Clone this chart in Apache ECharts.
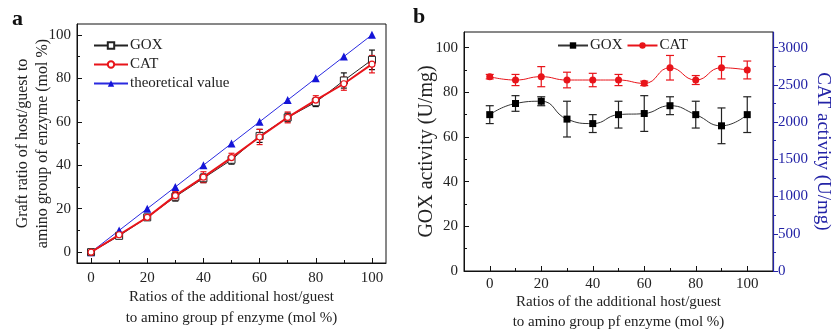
<!DOCTYPE html>
<html><head><meta charset="utf-8">
<script src="https://cdn.jsdelivr.net/npm/echarts@6/dist/echarts.min.js"></script>
<style>html,body{margin:0;padding:0;background:#fff}#c{width:832px;height:336px}</style>
</head><body><div id="c"></div>
<script>
// ---- data ----
const xRatio = [0,10,20,30,40,50,60,70,80,90,100];
// panel a: graft ratio (mol %)
const aGOX = [0,7.5,16,25.5,34,42.5,53.5,62,69,79,88.5];
const aGOXerr = [0.8,1,1,2,2,2,3,2,2,3.5,4.5];
const aCAT = [0,8,16,26,34.5,43.5,53,62,70,77.5,86.5];
const aCATerr = [0.8,1,1,2,2.5,2,3.5,2.5,2,3,4];
const aTheory = [0,10,20,30,40,50,60,70,80,90,100];
// panel b: activity
const bGOX = [70,75,76,68,66,70,70.5,74,70,65,70];
const bGOXerr = [4,3.5,2,8,4,6,8,4,6,8,8];
const bCAT = [2610,2565,2610,2565,2565,2565,2520,2730,2565,2730,2700];
const bCATerr = [30,75,135,105,90,75,30,165,60,150,120];
// ticks
const aTicks = [0,20,40,60,80,100];
const aMinor = [10,30,50,70,90];
const bLeftTicks = [0,20,40,60,80,100];
const bLeftMinor = [10,30,50,70,90];
const bRightTicks = [0,500,1000,1500,2000,2500,3000];
const bRightMinor = [250,750,1250,1750,2250,2750];
const xTicks = [0,20,40,60,80,100];
const xMinor = [10,30,50,70,90];

const FONT = 'Liberation Serif';
const BLUE = '#2323a6';
const RED = '#e8141a';

function errSeries(name, xi, yi, vals, errs, color, cap, w) {
  return {
    type:'custom', name:name, xAxisIndex:xi, yAxisIndex:yi, z:1,
    data: vals.map((v,i)=>[xRatio[i], v, errs[i]]),
    renderItem: function(params, api){
      const x = api.value(0), y = api.value(1), e = api.value(2);
      const p1 = api.coord([x, y+e]), p2 = api.coord([x, y-e]);
      const st = {stroke:color, lineWidth:w};
      return {type:'group', children:[
        {type:'line', shape:{x1:p1[0],y1:p1[1],x2:p2[0],y2:p2[1]}, style:st},
        {type:'line', shape:{x1:p1[0]-cap,y1:p1[1],x2:p1[0]+cap,y2:p1[1]}, style:st},
        {type:'line', shape:{x1:p2[0]-cap,y1:p2[1],x2:p2[0]+cap,y2:p2[1]}, style:st}
      ]};
    }
  };
}

function xAx(grid, min, max, name, gap, lh, lm) {
  return [{
    type:'value', gridIndex:grid, min:min, max:max,
    name:name, nameLocation:'middle', nameGap:gap, nameMoveOverlap:false,
    nameTextStyle:{fontFamily:FONT, fontSize:15, color:'#222', lineHeight:lh},
    axisLine:{onZero:false, lineStyle:{color:'#111', width:1}},
    axisTick:{inside:true, length:5, customValues:xTicks, lineStyle:{color:'#111'}},
    axisLabel:{customValues:xTicks, fontFamily:FONT, fontSize:15, color:'#222', margin:lm},
    splitLine:{show:false}
  },{
    type:'value', gridIndex:grid, min:min, max:max, position:'bottom',
    axisLine:{show:false, onZero:false},
    axisTick:{inside:true, length:3, customValues:xMinor, lineStyle:{color:'#111'}},
    axisLabel:{show:false}, splitLine:{show:false}
  }];
}

const opt = {
  animation:false,
  grid:[
    {left:77, top:24, width:309, height:239, show:true, borderColor:'#111', borderWidth:1, outerBoundsMode:'none', containLabel:false},
    {left:464, top:32, width:309, height:239, show:true, borderColor:'#111', borderWidth:1, outerBoundsMode:'none', containLabel:false}
  ],
  xAxis: [
    ...xAx(0,-5,105,'Ratios of the additional host/guest\nto amino group pf enzyme (mol %)',24,21,8),
    ...xAx(1,-10,110,'Ratios of the additional host/guest\nto amino group pf enzyme (mol %)',21,20,6)
  ],
  yAxis: [
    { // 0: panel a main
      type:'value', gridIndex:0, min:-5, max:105,
      name:'Graft ratio of host/guest to\namino group of enzyme (mol %)', nameLocation:'middle', nameGap:24, nameMoveOverlap:false,
      nameTextStyle:{fontFamily:FONT, fontSize:16, color:'#222', lineHeight:20},
      axisLine:{onZero:false, lineStyle:{color:'#111'}},
      axisTick:{inside:true, length:5, customValues:aTicks, lineStyle:{color:'#111'}},
      axisLabel:{customValues:aTicks, fontFamily:FONT, fontSize:15, color:'#222', margin:6},
      splitLine:{show:false}
    },
    { // 1: panel a minor
      type:'value', gridIndex:0, min:-5, max:105, position:'left',
      axisLine:{show:false, onZero:false},
      axisTick:{inside:true, length:3, customValues:aMinor, lineStyle:{color:'#111'}},
      axisLabel:{show:false}, splitLine:{show:false}
    },
    { // 2: panel b left
      type:'value', gridIndex:1, min:0, max:107,
      name:'GOX activity (U/mg)', nameLocation:'middle', nameGap:27, nameMoveOverlap:false,
      nameTextStyle:{fontFamily:FONT, fontSize:20, color:'#222'},
      axisLine:{onZero:false, lineStyle:{color:'#111'}},
      axisTick:{inside:true, length:5, customValues:bLeftTicks, lineStyle:{color:'#111'}},
      axisLabel:{customValues:bLeftTicks, fontFamily:FONT, fontSize:15, color:'#222', margin:6},
      splitLine:{show:false}
    },
    { // 3: panel b left minor
      type:'value', gridIndex:1, min:0, max:107, position:'left',
      axisLine:{show:false, onZero:false},
      axisTick:{inside:true, length:3, customValues:bLeftMinor, lineStyle:{color:'#111'}},
      axisLabel:{show:false}, splitLine:{show:false}
    },
    { // 4: panel b right
      type:'value', gridIndex:1, min:0, max:3210, position:'right',
      name:'CAT activity (U/mg)', nameLocation:'middle', nameGap:40, nameRotate:-90, nameMoveOverlap:false,
      nameTextStyle:{fontFamily:FONT, fontSize:19, color:BLUE},
      axisLine:{show:true, onZero:false, lineStyle:{color:BLUE, width:1.2}},
      axisTick:{show:true, inside:false, length:5, customValues:bRightTicks, lineStyle:{color:BLUE}},
      axisLabel:{customValues:bRightTicks, formatter:function(v){return String(v);}, fontFamily:FONT, fontSize:15, color:BLUE, margin:5},
      splitLine:{show:false}
    },
    { // 5: panel b right minor
      type:'value', gridIndex:1, min:0, max:3210, position:'right',
      axisLine:{show:false, onZero:false},
      axisTick:{show:true, inside:false, length:3, customValues:bRightMinor, lineStyle:{color:BLUE}},
      axisLabel:{show:false}, splitLine:{show:false}
    }
  ],
  legend:[
    {
      left:88, top:33, orient:'vertical', itemGap:4, itemWidth:34, itemHeight:8,
      data:['GOX','CAT','theoretical value'],
      textStyle:{fontFamily:FONT, fontSize:15, color:'#222', padding:[0,0,0,-3]}
    },
    {
      left:552, top:33, orient:'horizontal', itemGap:4, itemWidth:30, itemHeight:8,
      data:['GOX b','CAT b'],
      formatter:function(n){return n.replace(' b','');},
      textStyle:{fontFamily:FONT, fontSize:15, color:'#222', padding:[0,0,0,-3]}
    }
  ],
  series:[
    errSeries('errAGOX',0,0,aGOX,aGOXerr,'#111',3,1.2),
    errSeries('errACAT',0,0,aCAT,aCATerr,RED,3,1.2),
    {
      name:'theoretical value', type:'line', xAxisIndex:0, yAxisIndex:0, z:3,
      data:xRatio.map((x,i)=>[x,aTheory[i]]),
      symbol:'triangle', symbolSize:8,
      lineStyle:{color:'#2a2ae0', width:1},
      itemStyle:{color:'#1414d8'}
    },
    {
      name:'GOX', type:'line', xAxisIndex:0, yAxisIndex:0, z:4,
      data:xRatio.map((x,i)=>[x,aGOX[i]]),
      symbol:'rect', symbolSize:7, showAllSymbol:true,
      lineStyle:{color:'#222', width:1},
      itemStyle:{color:'#fff', borderColor:'#222', borderWidth:1}
    },
    {
      name:'CAT', type:'line', xAxisIndex:0, yAxisIndex:0, z:5,
      data:xRatio.map((x,i)=>[x,aCAT[i]]),
      symbol:'circle', symbolSize:6, showAllSymbol:true,
      lineStyle:{color:RED, width:2},
      itemStyle:{color:'#fff', borderColor:RED, borderWidth:1.2}
    },
    errSeries('errBGOX',2,2,bGOX,bGOXerr,'#222',4,1.2),
    errSeries('errBCAT',2,4,bCAT,bCATerr,RED,4,1.2),
    {
      name:'GOX b', type:'line', xAxisIndex:2, yAxisIndex:2, smooth:0.5, z:4,
      data:xRatio.map((x,i)=>[x,bGOX[i]]),
      symbol:'rect', symbolSize:7,
      lineStyle:{color:'#333', width:1},
      itemStyle:{color:'#000'}
    },
    {
      name:'CAT b', type:'line', xAxisIndex:2, yAxisIndex:4, smooth:0.5, z:4,
      data:xRatio.map((x,i)=>[x,bCAT[i]]),
      symbol:'circle', symbolSize:7,
      lineStyle:{color:RED, width:1},
      itemStyle:{color:RED}
    }
  ],
  graphic:[
    {type:'text', left:12, top:8, style:{text:'a', font:'bold 22px "Liberation Serif"', fill:'#111'}},
    {type:'text', left:413, top:6, style:{text:'b', font:'bold 22px "Liberation Serif"', fill:'#111'}}
  ]
};
const chart = echarts.init(document.getElementById('c'), null, {renderer:'canvas'});
chart.setOption(opt);
</script></body></html>
